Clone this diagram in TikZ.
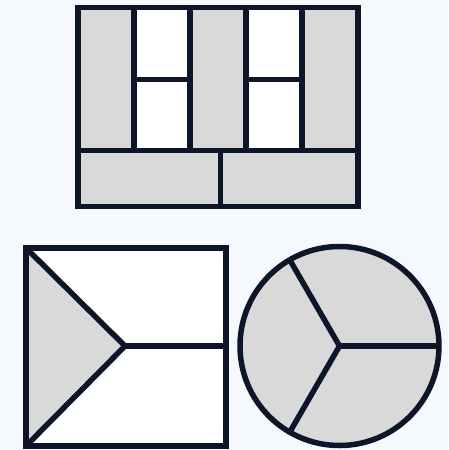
\documentclass[tikz,border=0pt]{standalone}
\definecolor{bg}{HTML}{F5F8FD}
\definecolor{ink}{HTML}{0C1628}
\definecolor{cellgray}{HTML}{D9D9D9}
\tikzset{
  edge/.style={draw=ink, line width=5.5pt, line join=miter},
  grayfill/.style={fill=cellgray},
  whitefill/.style={fill=white}
}
\begin{document}
\begin{tikzpicture}[x=1pt,y=-1pt]
\fill[bg] (0,0) rectangle (448,450);
\useasboundingbox (0,0) rectangle (448,450);
% top panel
\fill[grayfill] (78,7.5) rectangle (358,206.5);
\fill[whitefill] (134,7.5) rectangle (190,150.5);
\fill[whitefill] (246,7.5) rectangle (302,150.5);
\draw[edge] (78,7.5) rectangle (358,206.5);
\draw[edge] (78,150.5) -- (358,150.5);
\draw[edge] (134,7.5) -- (134,150.5);
\draw[edge] (190,7.5) -- (190,150.5);
\draw[edge] (246,7.5) -- (246,150.5);
\draw[edge] (302,7.5) -- (302,150.5);
\draw[edge] (134,79.5) -- (190,79.5);
\draw[edge] (246,79.5) -- (302,79.5);
\draw[edge] (220.5,150.5) -- (220.5,206.5);
% bottom-left square
\fill[whitefill] (26,248) rectangle (226,446);
\fill[grayfill] (26,248) -- (125,346) -- (26,446) -- cycle;
\draw[edge] (26,248) rectangle (226,446);
\draw[edge] (26,248) -- (125,346) -- (26,446);
\draw[edge] (125,346) -- (226,346);
% circle
\fill[grayfill] (339.5,346) circle[radius=99.5];
\draw[edge] (339.5,346) circle[radius=99.5];
\draw[edge] (339.5,346) -- ++(99.5,0);
\draw[edge] (339.5,346) -- ++(120:99.5);
\draw[edge] (339.5,346) -- ++(240:99.5);
\end{tikzpicture}
\end{document}
